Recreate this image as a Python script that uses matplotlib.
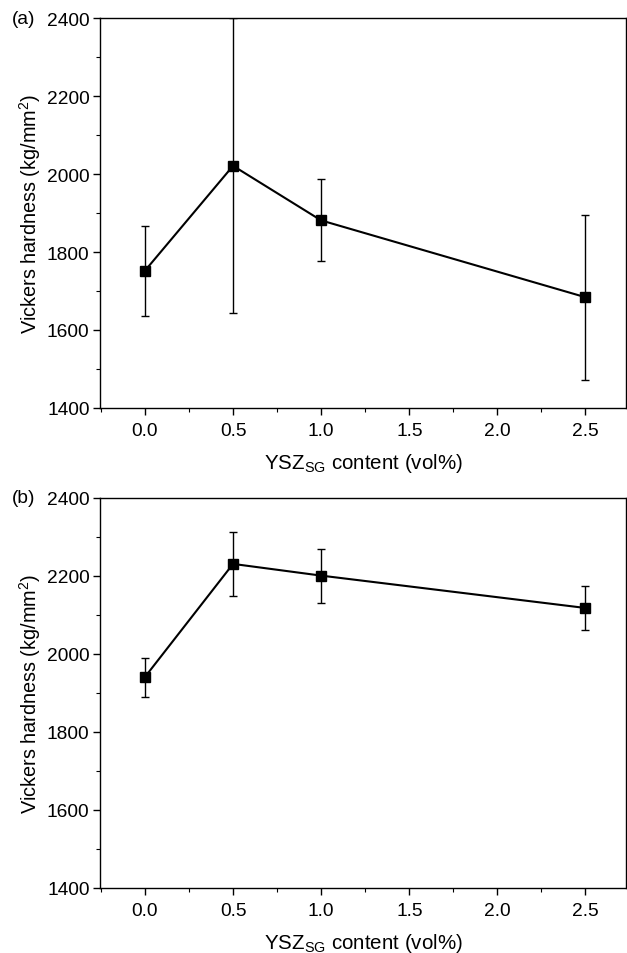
import numpy as np
import matplotlib
matplotlib.use('Agg')
import matplotlib.pyplot as plt
from matplotlib.ticker import MultipleLocator

# dati
content = [0.0, 0.5, 1.0, 2.5]
hardness_a = [1752, 2021, 1881, 1684]
err_a = [115, 378, 105, 211]
hardness_b = [1941, 2231, 2201, 2118]
err_b = [50, 82, 69, 56]

plt.rcParams['font.family'] = ['Liberation Sans', 'DejaVu Sans']
plt.rcParams['mathtext.fontset'] = 'custom'
plt.rcParams['mathtext.rm'] = 'Liberation Sans'

fig = plt.figure(figsize=(6.27, 9.54), dpi=100)
W, H = 627, 954
ax_a = fig.add_axes([100 / W, 1 - 409 / H, 526 / W, 390 / H])
ax_b = fig.add_axes([100 / W, 1 - 889 / H, 526 / W, 390 / H])


def draw_panel(ax, y, err, tag):
    ax.errorbar(content, y, yerr=err, color='black', lw=1.5, marker='s', ms=7.8,
                capsize=3, elinewidth=1.0, capthick=1.0)
    ax.set_xlim(-0.255, 2.73)
    ax.set_ylim(1400, 2400)
    ax.xaxis.set_major_locator(MultipleLocator(0.5))
    ax.xaxis.set_minor_locator(MultipleLocator(0.25))
    ax.yaxis.set_major_locator(MultipleLocator(200))
    ax.yaxis.set_minor_locator(MultipleLocator(100))
    ax.xaxis.set_major_formatter(plt.FormatStrFormatter('%.1f'))
    ax.tick_params(which='major', direction='out', length=5, width=1.0, labelsize=13.8, colors='black')
    ax.tick_params(which='minor', direction='out', length=3, width=0.8)
    ax.tick_params(axis='x', pad=5)
    ax.tick_params(axis='y', pad=2.5)
    for s in ax.spines.values():
        s.set_linewidth(1.0)
    ax.set_xlabel(r'YSZ$_{\mathregular{SG}}$ content (vol%)', fontsize=14.8, labelpad=9)
    ax.set_ylabel(r'Vickers hardness (kg/mm$^{\mathregular{2}}$)', fontsize=14.3, labelpad=3)
    ax.text(-0.167, 1.0, tag, transform=ax.transAxes, fontsize=13.8, ha='left', va='center')


draw_panel(ax_a, hardness_a, err_a, '(a)')
draw_panel(ax_b, hardness_b, err_b, '(b)')

fig.savefig('out.png', dpi=100)
